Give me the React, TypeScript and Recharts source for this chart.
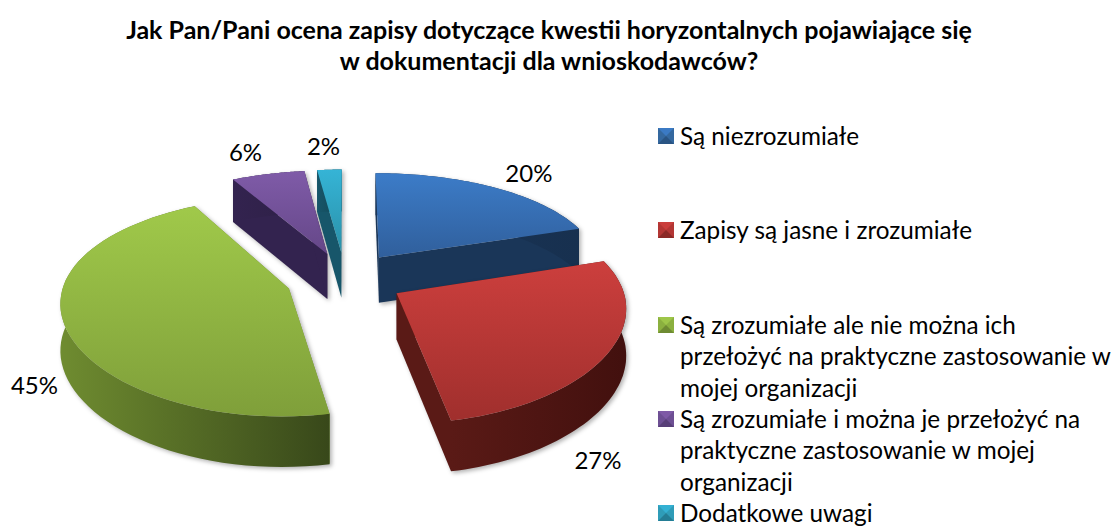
import { Legend, Pie, PieChart } from "recharts";

const categories = [
  "Są niezrozumiałe",
  "Zapisy są jasne i zrozumiałe",
  "Są zrozumiałe ale nie można ich przełożyć na praktyczne zastosowanie w mojej organizacji",
  "Są zrozumiałe i można je przełożyć na praktyczne zastosowanie w mojej organizacji",
  "Dodatkowe uwagi",
];
const shares = [20, 27, 45, 6, 2];

const topLight = ["#3c7cc8", "#cc3f3d", "#a0c94a", "#7f5ba8", "#35b4d6"];
const topDark = ["#305f9c", "#a02f2d", "#7f9f3a", "#654788", "#2a90a8"];
const wallLight = ["#1a3658", "#5a1a16", "#6f8c30", "#33234f", "#17566a"];
const wallDark = ["#17304f", "#42100e", "#38481a", "#2e2046", "#124654"];
const markerMid = ["#34689f", "#b33634", "#8bb03f", "#6d4f93", "#2f9cb8"];
const labelNudge = [
  [16, -4],
  [-50, 94],
  [11, 50],
  [-13, -10],
  [-4, -12],
];

const FONT = "Lato, Carlito, sans-serif";
const EXPLODE = 59;
const FOCAL_X = 2000;
const FOCAL_Y = 1400;
const TILT = 0.465;
const DEPTH = 46;

const tableData = categories.map((name, i) => ({ name, value: shares[i] }));

function project(cx: number, cy: number, x: number, y: number, drop = 0) {
  const px = FOCAL_X / (FOCAL_X + y);
  const py = FOCAL_Y / (FOCAL_Y + y);
  return [cx + x * px, cy - y * TILT * py + drop * DEPTH * Math.sqrt(py)];
}

const toPath = (pts: number[][]) =>
  "M" + pts.map((q) => `${q[0].toFixed(1)} ${q[1].toFixed(1)}`).join("L") + "Z";

function Slice3D(props: any) {
  const { cx, cy, outerRadius, startAngle, endAngle, name } = props;
  const idx = categories.indexOf(name);
  const mid = ((startAngle + endAngle) / 2) * (Math.PI / 180);
  const ox = EXPLODE * Math.cos(mid);
  const oy = EXPLODE * Math.sin(mid);
  const arc: number[][] = [];
  const steps = 60;
  for (let s = 0; s <= steps; s++) {
    const a = ((startAngle + ((endAngle - startAngle) * s) / steps) * Math.PI) / 180;
    arc.push([ox + outerRadius * Math.cos(a), oy + outerRadius * Math.sin(a)]);
  }
  const at = (q: number[], drop = 0) => project(cx, cy, q[0], q[1], drop);
  const apex = [ox, oy];
  const first = arc[0];
  const last = arc[arc.length - 1];
  const topFace = [at(apex), ...arc.map((q) => at(q))];
  const wall = [...arc.map((q) => at(q)), ...arc.slice().reverse().map((q) => at(q, 1))];
  const cutA = [at(apex), at(first), at(first, 1), at(apex, 1)];
  const cutB = [at(apex), at(last), at(last, 1), at(apex, 1)];
  return (
    <g style={{ filter: "drop-shadow(2px 2px 2px rgba(0,0,0,0.3))" }}>
      <defs>
        <linearGradient id={`top${idx}`} x1="0" y1="0" x2="0" y2="1">
          <stop offset="0%" stopColor={topLight[idx]} />
          <stop offset="100%" stopColor={topDark[idx]} />
        </linearGradient>
        <linearGradient id={`wall${idx}`} x1="0" y1="0" x2="1" y2="0">
          <stop offset="0%" stopColor={wallLight[idx]} />
          <stop offset="100%" stopColor={wallDark[idx]} />
        </linearGradient>
      </defs>
      <path d={toPath(cutA)} fill={wallLight[idx]} />
      <path d={toPath(cutB)} fill={wallLight[idx]} />
      <path d={toPath(wall)} fill={`url(#wall${idx})`} />
      <path d={toPath(topFace)} fill={`url(#top${idx})`} />
    </g>
  );
}

function SliceLabel(props: any) {
  const { cx, cy, midAngle, outerRadius, value, index } = props;
  const a = (midAngle * Math.PI) / 180;
  const rho = outerRadius + EXPLODE + 40;
  const q = project(cx, cy, rho * Math.cos(a), rho * Math.sin(a));
  return (
    <text
      x={q[0] + labelNudge[index][0]}
      y={q[1] + labelNudge[index][1]}
      textAnchor="middle"
      dominantBaseline="central"
      fontFamily={FONT}
      fontSize={24}
      fill="#000"
    >
      {value}%
    </text>
  );
}

function Marker({ i }: { i: number }) {
  return (
    <svg width={16} height={16} style={{ flex: "none", marginTop: 8, marginRight: 6 }}>
      <rect width={16} height={16} fill={markerMid[i]} />
      <polygon points="0,0 16,0 8,8" fill={topLight[i]} opacity={0.9} />
      <polygon points="0,16 16,16 8,8" fill={wallDark[i]} opacity={0.35} />
    </svg>
  );
}

function LegendBox({ payload }: any) {
  return (
    <div>
      {(payload || []).map((entry: any, i: number) => (
        <div key={entry.value} style={{ display: "flex", height: 94.3, alignItems: "flex-start" }}>
          <Marker i={i} />
          <div style={{ fontFamily: FONT, fontSize: 24.3, lineHeight: "31.5px", color: "#000", width: 437 }}>
            {entry.value}
          </div>
        </div>
      ))}
    </div>
  );
}

export default function App() {
  return (
    <div style={{ position: "absolute", left: 0, top: 0, width: 1117, height: 527, background: "#fff", overflow: "hidden" }}>
      <div
        style={{
          position: "absolute",
          left: 0,
          top: 14,
          width: 1098,
          textAlign: "center",
          fontFamily: FONT,
          fontWeight: 700,
          fontSize: 25,
          lineHeight: "31px",
          color: "#000",
        }}
      >
        Jak Pan/Pani ocena zapisy dotyczące kwestii horyzontalnych pojawiające się
        <br />w dokumentacji dla wnioskodawców?
      </div>
      <PieChart width={1117} height={527} margin={{ top: 0, right: 0, bottom: 0, left: 0 }}>
        <Pie
          data={tableData}
          dataKey="value"
          nameKey="name"
          cx={345}
          cy={279}
          outerRadius={224}
          startAngle={90}
          endAngle={-270}
          paddingAngle={0}
          stroke="none"
          shape={Slice3D}
          label={SliceLabel}
          labelLine={false}
          isAnimationActive={false}
        />
        <Legend
          layout="vertical"
          content={<LegendBox />}
          itemSorter={null}
          wrapperStyle={{ position: "absolute", left: 658, top: 120, width: 459, bottom: "auto", right: "auto" }}
        />
      </PieChart>
    </div>
  );
}
